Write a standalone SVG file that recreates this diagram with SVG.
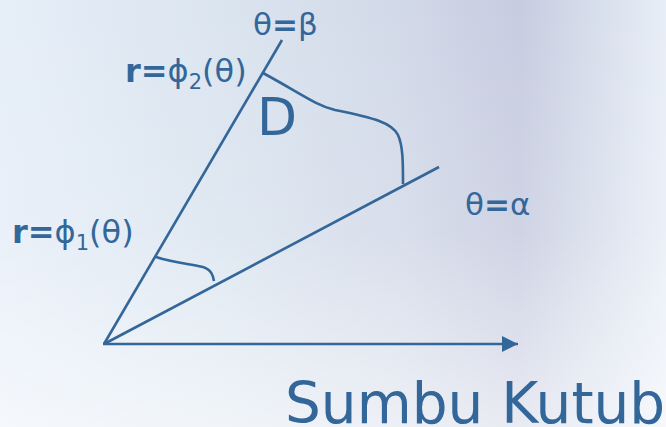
<svg xmlns="http://www.w3.org/2000/svg" width="666" height="427" viewBox="0 0 666 427">
<defs>
<linearGradient id="bgH" x1="0" y1="0" x2="1" y2="0">
<stop offset="0" stop-color="#e6eef8"/>
<stop offset="0.35" stop-color="#dae4ef"/>
<stop offset="0.6" stop-color="#d2d9e8"/>
<stop offset="0.78" stop-color="#c7cce0"/>
<stop offset="0.9" stop-color="#d8dfec"/>
<stop offset="1" stop-color="#e8eef7"/>
</linearGradient>
<linearGradient id="bgV" x1="0" y1="0" x2="0" y2="1">
<stop offset="0" stop-color="#ffffff" stop-opacity="0"/>
<stop offset="0.55" stop-color="#ffffff" stop-opacity="0.15"/>
<stop offset="1" stop-color="#ffffff" stop-opacity="0.6"/>
</linearGradient>
<marker id="arr" viewBox="0 0 10 10" refX="10" refY="5" markerWidth="16" markerHeight="16" markerUnits="userSpaceOnUse" orient="auto">
<path d="M0,0 L10,5 L0,10 z" fill="#336699"/>
</marker>
<style>
.ln{stroke:#336699;stroke-width:2.6;fill:none}
.t{font-family:"DejaVu Sans",Verdana,sans-serif;fill:#336699}
.b{font-weight:bold}
</style>
</defs>
<rect width="666" height="427" fill="url(#bgH)"/>
<rect width="666" height="427" fill="url(#bgV)"/>
<g id="connectors">
<line class="ln" x1="104" y1="344" x2="282" y2="40"/>
<line class="ln" x1="104" y1="344" x2="439" y2="167"/>
<line class="ln" x1="103" y1="344" x2="518" y2="344" marker-end="url(#arr)"/>
<path class="ln" d="M263,73 C300,93 315,105 335,110 C375,118 392,123 398,135 C403,146 403,162 403,184"/>
<path class="ln" d="M156,257 C175,263 190,264 203,267 C212,270 213,276 214,281"/>
</g>
<g id="label-beta"><text class="t" x="253" y="35" font-size="31">θ<tspan class="b">=</tspan>β</text></g>
<g id="label-alpha"><text class="t" x="465" y="215" font-size="31">θ<tspan class="b">=</tspan>α</text></g>
<g id="label-phi2"><text class="t" x="125" y="82" font-size="32"><tspan class="b">r=</tspan>ϕ<tspan font-size="21" dy="7">2</tspan><tspan dy="-7">(θ)</tspan></text></g>
<g id="label-phi1"><text class="t" x="12" y="243" font-size="32"><tspan class="b">r=</tspan>ϕ<tspan font-size="21" dy="7">1</tspan><tspan dy="-7">(θ)</tspan></text></g>
<g id="label-D"><text class="t" x="257" y="135" font-size="52">D</text></g>
<g id="label-axis"><text class="t" x="285" y="423" font-size="56.5">Sumbu Kutub</text></g>
</svg>
